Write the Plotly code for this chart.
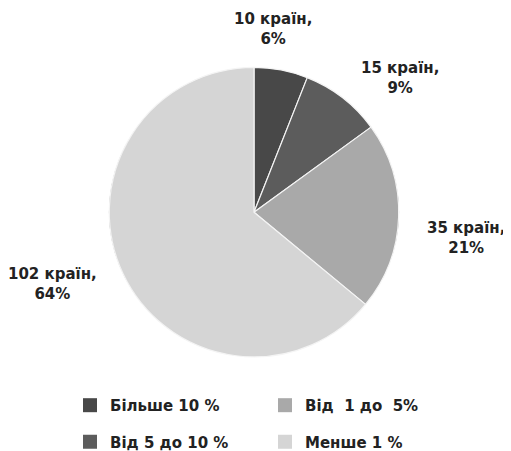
import math
import plotly.graph_objects as go

categories = ["Більше 10 %", "Від 5 до 10 %", "Від\u00a0 1 до\u00a0 5%", "Менше 1 %"]
countries = [10, 15, 35, 102]
percents = [6, 9, 21, 64]
colors = ["#484848", "#5c5c5c", "#a9a9a9", "#d5d5d5"]
legend_order = [0, 2, 1, 3]

FONT = "DejaVu Sans"
W, H = 511, 451
# pie geometry in figure pixels
CX, CY, R = 246, 206, 146
GAP = 25

fig = go.Figure()
fig.add_trace(go.Pie(
    labels=categories,
    values=percents,
    customdata=countries,
    sort=False,
    direction="clockwise",
    rotation=0,
    marker=dict(colors=colors, line=dict(color="#f4f4f4", width=1.2)),
    textinfo="none",
    domain=dict(x=[(CX - R) / W, (CX + R) / W], y=[1 - (CY + R) / H, 1 - (CY - R) / H]),
    showlegend=False,
    hoverinfo="label+value",
))

# faint outline around the pie
RO = R - 1.5
fig.add_shape(type="circle", xref="paper", yref="paper", layer="below",
              x0=(CX - RO) / W, x1=(CX + RO) / W,
              y0=1 - (CY + RO) / H, y1=1 - (CY - RO) / H,
              line=dict(color="#9a9a9a", width=1.2))

# outside labels placed at each slice's mid-angle
total = sum(percents)
cum = 0
for n, p in zip(countries, percents):
    mid = (cum + p / 2) / total * 2 * math.pi
    cum += p
    s, c = math.sin(mid), math.cos(mid)
    px = CX + (R + GAP) * s
    py = CY - (R + GAP) * c
    if abs(s) < 0.3:
        xa, ya = "center", ("bottom" if c > 0 else "top")
        px = CX + R * s * 0.7
        py += 4
    elif s > 0:
        xa, ya = "left", ("top" if abs(c) < 0.5 else "middle")
    else:
        xa, ya = "right", "middle"
    fig.add_annotation(
        x=px / W, y=1 - py / H, xref="paper", yref="paper",
        xanchor=xa, yanchor=ya, showarrow=False, align="center",
        text=f"{n} країн,<br>{p}%",
        font=dict(family=FONT, size=15, color="#222222", weight="bold"),
    )

for row, idxs in enumerate([legend_order[:2], legend_order[2:]]):
    for i in idxs:
        fig.add_trace(go.Scatter(
            x=[None], y=[None], mode="markers", name=categories[i],
            marker=dict(symbol="square", size=14, color=colors[i]),
            legend="legend" if row == 0 else "legend2",
        ))

leg = dict(orientation="h", xanchor="left", yanchor="middle", x=62 / W,
           font=dict(family=FONT, size=15, color="#222222", weight="bold"),
           entrywidth=150, bgcolor="rgba(0,0,0,0)", itemclick=False)
fig.update_layout(
    width=W, height=H,
    margin=dict(l=0, r=0, t=0, b=0),
    paper_bgcolor="white", plot_bgcolor="white",
    xaxis=dict(visible=False), yaxis=dict(visible=False),
    legend=dict(leg, y=1 - 401 / H),
    legend2=dict(leg, y=1 - 438 / H),
)
fig.write_html("out.html")
